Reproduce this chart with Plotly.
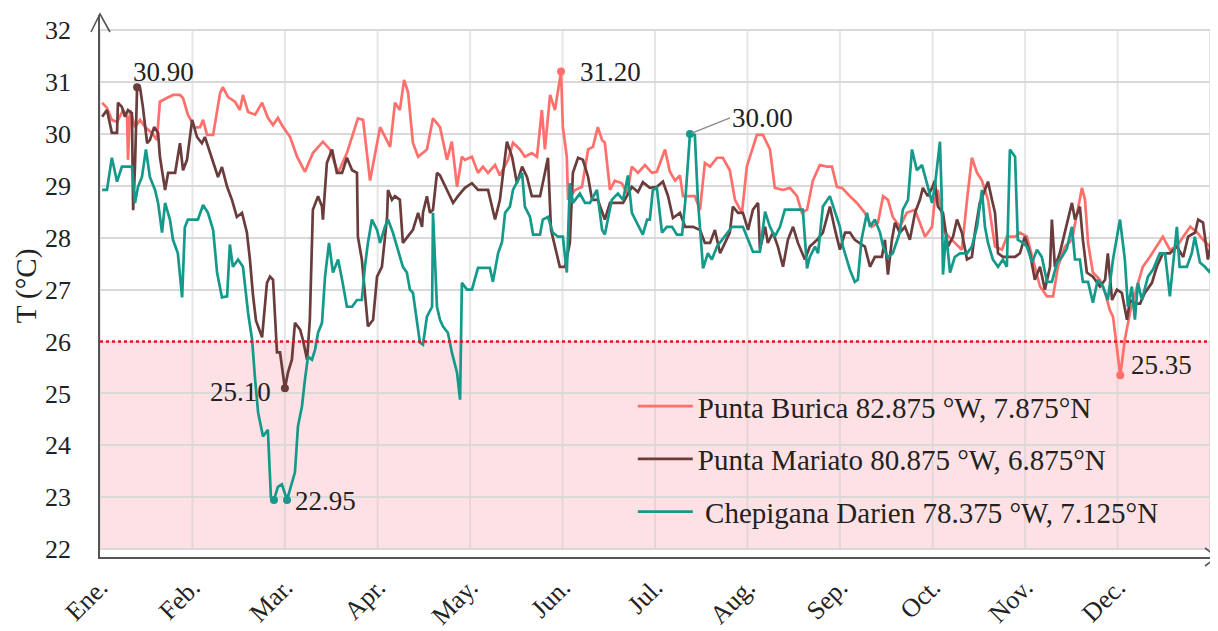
import plotly.graph_objects as go

# ---------------- data (day of year, °C) ----------------
burica_day = [0.7, 2.3, 3.9, 5.6, 7.6, 8.9, 9.2, 9.9, 11.5, 13.2, 14.8, 17.1, 18.7, 19.7, 22.0, 24.0, 26.3, 27.3, 28.9,
              31.2, 32.9, 33.9, 35.2, 37.2, 39.5, 40.4, 42.1, 44.4, 46.0, 47.0, 48.7, 51.0, 53.3, 55.2, 56.9, 58.5,
              60.2, 62.5, 64.8, 67.4, 70.0, 73.3, 75.6, 78.3, 81.2, 84.8, 86.5, 88.8, 92.1, 95.4, 97.0, 98.6, 100.0,
              101.3, 102.9, 104.6, 107.5, 109.5, 111.8, 114.1, 115.7, 117.4, 119.0, 120.0, 122.3, 124.3, 125.9,
              127.6, 129.9, 131.5, 134.2, 135.8, 138.1, 139.7, 142.0, 143.7, 145.3, 146.3, 148.0, 149.6, 151.6,
              152.2, 153.5, 153.9, 156.2, 158.5, 160.5, 162.1, 163.7, 165.1, 166.0, 167.7, 169.3, 171.6, 173.3,
              174.9, 176.9, 179.2, 181.5, 183.1, 185.8, 187.4, 189.1, 190.7, 191.7, 195.6, 197.3, 198.9, 200.6,
              202.9, 204.8, 207.1, 208.8, 211.1, 212.7, 214.4, 216.0, 218.0, 220.3, 221.9, 224.6, 226.9, 229.2,
              230.8, 232.5, 234.4, 236.7, 239.0, 240.7, 242.3, 244.0, 246.6, 248.9, 251.5, 253.8, 255.8, 257.5,
              259.1, 260.7, 263.0, 265.3, 268.0, 269.6, 271.3, 273.6, 274.5, 275.5, 277.8, 281.1, 283.4, 285.1,
              286.7, 288.4, 290.0, 292.0, 294.3, 296.6, 298.2, 300.9, 302.5, 304.8, 306.8, 309.1, 311.4, 313.4,
              315.0, 317.3, 319.6, 321.6, 322.9, 323.9, 324.9, 326.5, 328.8, 330.5, 332.1, 333.1, 334.1, 335.5,
              337.0, 338.7, 341.0, 342.9, 345.2, 347.5, 349.5, 351.8, 354.1, 356.2, 358.5, 360.8, 362.7, 365.0,
              366.0, 367.3]
burica_t = [30.6, 30.5, 30.27, 30.23, 30.46, 30.33, 29.5, 30.46, 30.13, 30.27, 30.13, 30.02, 29.88, 30.62, 30.69,
            30.75, 30.75, 30.69, 30.37, 30.12, 30.13, 30.27, 29.98, 29.98, 30.79, 30.9, 30.71, 30.62, 30.46, 30.75,
            30.42, 30.37, 30.6, 30.31, 30.17, 30.31, 30.13, 29.94, 29.56, 29.27, 29.63, 29.85, 29.7, 29.25, 29.63,
            30.3, 30.27, 29.1, 30.13, 29.75, 30.6, 30.46, 31.04, 30.8, 29.83, 29.56, 29.7, 30.3, 30.13, 29.5, 29.85,
            28.98, 29.56, 29.5, 29.56, 29.25, 29.37, 29.25, 29.4, 29.2, 29.5, 29.83, 29.7, 29.56, 29.63, 29.56,
            30.46, 29.7, 30.75, 30.46, 31.2, 30.13, 29.56, 28.73, 28.92, 28.98, 29.7, 29.75, 30.13, 29.88, 29.83,
            28.92, 29.1, 29.05, 28.85, 29.37, 29.25, 29.4, 29.25, 29.27, 29.7, 29.27, 29.1, 29.2, 28.8, 28.8, 28.54,
            29.44, 29.37, 29.54, 29.54, 29.3, 28.73, 28.48, 29.37, 29.7, 29.98, 29.98, 29.7, 28.96, 28.92, 28.96,
            28.8, 28.48, 28.54, 29.1, 29.4, 29.37, 29.37, 28.98, 28.96, 28.8, 28.67, 28.48, 28.21, 28.29, 28.8,
            28.73, 28.4, 28.21, 28.48, 28.54, 28.29, 28.02, 28.21, 28.73, 28.92, 28.1, 27.9, 27.77, 28.73, 29.54,
            29.25, 29.1, 28.73, 27.83, 27.77, 28.02, 28.02, 28.1, 28.02, 27.58, 27.06, 26.87, 26.87, 27.44, 27.83,
            27.96, 28.6, 28.96, 28.73, 27.9, 27.33, 27.19, 26.94, 26.6, 26.48, 26.04, 25.35, 26.04, 26.56, 27.06,
            27.44, 27.63, 27.83, 28.02, 27.77, 27.83, 28.02, 28.21, 28.1, 27.96, 27.83, 28.54, 28.96]

mariato_day = [0.7, 2.3, 3.9, 5.6, 5.9, 7.2, 8.2, 9.2, 10.5, 10.9, 11.5, 12.2, 13.2, 14.1, 15.5, 16.4, 17.8, 19.1,
               19.7, 21.4, 22.4, 24.7, 26.3, 27.3, 28.6, 30.3, 31.9, 33.5, 34.5, 36.2, 37.8, 38.8, 40.1, 41.8, 43.4,
               45.0, 46.7, 48.3, 49.3, 50.3, 51.3, 53.3, 54.9, 55.9, 56.9, 58.2, 59.2, 60.8, 61.8, 63.1, 64.1, 65.8,
               66.7, 68.1, 69.0, 70.0, 71.7, 73.0, 73.3, 74.6, 76.3, 77.9, 79.6, 81.2, 82.9, 84.5, 84.8, 86.1, 87.1,
               88.1, 89.8, 91.1, 92.7, 94.4, 94.7, 96.0, 97.0, 98.6, 99.6, 101.3, 102.9, 104.6, 105.9, 106.2, 107.5,
               108.5, 109.5, 110.8, 111.8, 114.1, 116.1, 117.7, 120.0, 122.3, 124.3, 127.6, 129.9, 131.5, 133.8,
               135.5, 137.1, 138.8, 140.4, 142.0, 144.7, 146.3, 147.3, 148.3, 149.6, 151.2, 152.9, 154.5, 155.5,
               157.2, 158.8, 160.5, 161.8, 163.7, 166.0, 167.7, 170.0, 172.0, 174.9, 176.9, 178.5, 180.8, 183.1,
               185.1, 186.8, 188.4, 190.7, 192.4, 195.0, 197.3, 198.9, 200.6, 202.2, 203.9, 205.5, 207.1, 208.1,
               209.8, 211.4, 213.1, 214.7, 216.4, 217.0, 218.7, 219.6, 221.3, 222.9, 224.6, 226.2, 227.9, 229.5,
               231.8, 233.4, 235.8, 237.7, 240.0, 241.7, 243.3, 245.0, 246.6, 248.2, 249.9, 251.5, 253.2, 254.8,
               257.1, 258.1, 259.1, 260.4, 261.4, 263.0, 264.7, 266.3, 268.0, 269.6, 270.6, 272.2, 273.6, 274.5,
               275.5, 277.2, 278.8, 280.5, 281.8, 283.4, 285.1, 286.7, 287.7, 289.3, 291.0, 292.0, 293.3, 294.3,
               295.3, 296.9, 300.9, 302.5, 304.1, 305.8, 307.4, 309.1, 310.7, 312.4, 313.0, 314.0, 315.6, 317.3,
               319.6, 320.6, 322.2, 323.2, 324.5, 326.5, 328.8, 330.5, 331.4, 332.8, 334.4, 336.0, 337.7, 338.7,
               340.3, 342.0, 343.6, 345.9, 347.5, 349.5, 351.8, 354.1, 356.2, 357.8, 360.1, 361.1, 362.7, 364.3,
               366.0, 367.3]
mariato_t = [30.33, 30.46, 30.02, 30.02, 30.6, 30.52, 30.33, 30.46, 30.4, 28.53, 29.36, 30.9, 30.88, 30.52, 29.82,
             29.88, 30.13, 30.02, 29.56, 28.92, 29.25, 29.25, 29.82, 29.3, 29.5, 30.27, 29.94, 29.82, 29.94, 29.63,
             29.36, 29.17, 29.36, 28.98, 28.73, 28.4, 28.48, 28.1, 27.58, 26.9, 26.4, 26.08, 27.13, 27.25, 27.19,
             25.79, 25.79, 25.1, 25.4, 25.65, 26.36, 26.23, 26.04, 25.65, 26.42, 28.54, 28.8, 28.6, 28.35, 29.44,
             29.7, 29.25, 29.25, 29.54, 29.3, 29.25, 28.02, 27.58, 26.94, 26.29, 26.42, 27.25, 27.44, 28.4, 28.92,
             28.73, 28.8, 28.73, 27.9, 28.02, 28.15, 28.48, 28.21, 28.48, 28.8, 28.48, 28.54, 29.25, 29.2, 28.92,
             28.67, 28.8, 28.96, 29.05, 28.92, 28.92, 28.35, 28.73, 29.85, 29.56, 29.05, 29.37, 29.17, 28.8, 28.8,
             29.25, 29.54, 28.15, 27.83, 27.44, 27.44, 27.9, 29.25, 29.54, 29.5, 29.17, 28.73, 28.73, 28.35, 28.67,
             28.67, 28.67, 28.98, 28.88, 29.07, 28.96, 28.98, 29.08, 28.8, 28.38, 28.48, 28.21, 28.21, 28.15, 27.9,
             27.9, 28.15, 27.7, 27.9, 28.1, 28.6, 28.48, 28.48, 28.15, 28.54, 28.67, 27.77, 28.21, 27.9, 28.1, 27.83,
             27.44, 27.96, 28.21, 27.9, 27.58, 27.83, 27.96, 28.1, 28.6, 28.15, 27.77, 28.1, 28.1, 27.96, 27.9,
             27.83, 27.44, 27.63, 27.63, 27.96, 27.29, 27.96, 28.29, 28.1, 28.21, 27.96, 28.48, 28.73, 28.96, 28.8,
             28.96, 29.1, 28.6, 28.48, 27.83, 28.02, 28.35, 28.1, 27.58, 27.63, 28.1, 28.67, 28.92, 29.08, 28.73,
             28.48, 27.7, 27.63, 27.63, 27.7, 28.02, 27.7, 27.19, 27.44, 27.0, 27.44, 28.35, 27.44, 27.7, 28.1,
             28.67, 28.35, 28.6, 27.96, 27.33, 27.25, 27.06, 27.19, 27.7, 26.8, 27.0, 26.94, 26.42, 26.8, 26.73,
             26.73, 26.94, 27.13, 27.44, 27.7, 27.7, 27.83, 27.63, 28.02, 28.1, 28.35, 28.29, 27.58, 28.1, 28.29]

chepigana_day = [0.7, 2.3, 3.9, 5.6, 7.2, 10.5, 11.5, 12.5, 13.8, 15.1, 16.4, 18.1, 19.1, 20.4, 21.4, 23.0, 24.0,
                 25.6, 27.0, 27.9, 28.9, 32.2, 33.9, 35.5, 37.2, 38.5, 40.1, 41.8, 42.7, 43.7, 45.4, 47.0, 48.7,
                 50.0, 51.0, 52.0, 53.6, 55.2, 56.2, 57.2, 58.5, 59.8, 61.5, 63.1, 64.1, 65.1, 66.4, 67.4, 68.4,
                 69.7, 70.7, 71.7, 73.0, 74.0, 75.3, 76.6, 78.3, 79.6, 81.2, 82.9, 84.5, 86.1, 87.1, 88.1, 89.4,
                 91.1, 92.1, 93.7, 94.7, 96.3, 98.0, 99.6, 100.9, 101.9, 102.9, 104.2, 105.2, 106.2, 107.5, 109.2,
                 109.5, 110.8, 111.8, 112.8, 114.4, 115.7, 117.4, 118.4, 119.0, 120.7, 122.3, 124.3, 128.2, 129.2,
                 130.9, 132.2, 133.2, 134.8, 135.8, 137.4, 138.8, 139.7, 141.4, 142.4, 144.7, 145.6, 147.3, 148.9,
                 150.6, 152.2, 153.5, 154.5, 155.5, 157.8, 159.5, 161.1, 163.4, 165.1, 166.0, 168.3, 170.3, 172.0,
                 173.6, 174.9, 176.6, 178.5, 179.9, 180.8, 181.8, 183.1, 184.8, 186.4, 188.1, 189.7, 191.4, 192.4,
                 194.0, 195.6, 196.6, 198.3, 199.9, 201.2, 202.9, 204.5, 206.2, 207.8, 211.4, 213.1, 214.7, 217.0,
                 218.7, 220.3, 221.9, 223.6, 225.2, 231.1, 232.5, 233.4, 235.1, 236.1, 237.7, 240.0, 242.3, 243.3,
                 244.3, 246.6, 248.2, 249.2, 250.4, 252.2, 253.2, 254.8, 256.5, 257.5, 259.1, 260.7, 263.0, 264.0,
                 265.7, 267.0, 268.6, 270.3, 271.9, 273.6, 274.5, 276.2, 276.8, 277.2, 278.2, 279.5, 281.1, 282.8,
                 285.1, 286.7, 288.4, 290.0, 291.0, 292.0, 293.6, 295.3, 296.9, 298.2, 299.2, 300.9, 301.8, 303.5,
                 304.8, 306.5, 308.1, 309.7, 311.4, 313.0, 314.7, 316.3, 317.9, 319.6, 320.6, 322.2, 323.2, 324.9,
                 326.5, 328.1, 329.8, 331.4, 333.1, 335.4, 337.0, 338.0, 339.3, 340.3, 341.3, 342.6, 344.6, 346.2,
                 348.5, 350.2, 351.8, 352.8, 354.1, 355.0, 357.4, 359.0, 360.0, 361.7, 363.3, 365.0, 366.0, 367.3]
chepigana_t = [28.92, 28.92, 29.54, 29.08, 29.37, 29.37, 28.67, 28.98, 29.17, 29.7, 29.17, 28.92, 28.67, 28.1,
               28.67, 28.35, 27.96, 27.7, 26.85, 28.2, 28.35, 28.35, 28.63, 28.48, 28.15, 27.33, 26.85, 26.87, 27.87,
               27.44, 27.58, 27.44, 26.55, 26.04, 25.27, 24.63, 24.17, 24.3, 23.0, 22.95, 23.2, 23.25, 22.95, 23.25,
               23.48, 24.37, 24.75, 25.27, 25.71, 25.65, 25.84, 26.17, 26.36, 27.25, 27.9, 27.33, 27.58, 27.19,
               26.67, 26.67, 26.8, 26.8, 27.44, 27.9, 28.35, 28.15, 27.9, 28.21, 28.35, 28.1, 27.77, 27.44, 27.33,
               27.0, 26.94, 26.42, 25.98, 25.94, 26.48, 26.67, 28.48, 26.67, 26.42, 26.29, 26.17, 25.79, 25.4, 24.88,
               27.13, 27.0, 27.0, 27.42, 27.42, 27.15, 27.7, 27.92, 28.48, 28.6, 28.92, 29.1, 29.25, 28.6, 28.4,
               28.06, 28.06, 28.35, 28.4, 28.1, 28.02, 28.02, 27.33, 29.05, 28.67, 28.85, 28.67, 28.67, 28.92, 28.15,
               28.06, 28.73, 28.85, 28.73, 29.2, 28.48, 28.29, 28.06, 28.35, 28.35, 28.92, 28.96, 28.1, 28.21, 28.21,
               28.06, 28.06, 28.67, 30.0, 29.98, 28.73, 27.41, 27.7, 27.58, 27.83, 27.96, 28.1, 28.21, 28.21, 27.98,
               27.73, 27.73, 28.5, 28.21, 28.02, 28.21, 28.54, 28.54, 27.41, 27.63, 27.83, 27.7, 28.6, 28.8, 28.4,
               28.21, 27.83, 27.38, 27.15, 27.19, 27.96, 28.48, 28.21, 28.35, 28.1, 27.83, 27.62, 27.7, 28.1, 28.54,
               28.73, 29.7, 29.3, 29.4, 29.05, 28.67, 28.98, 29.85, 28.73, 27.29, 28.1, 27.33, 27.63, 27.7, 27.7,
               27.83, 28.21, 28.92, 28.21, 27.9, 27.58, 27.44, 27.58, 27.44, 29.7, 29.56, 27.96, 27.9, 27.83, 27.52,
               27.77, 27.63, 27.15, 27.15, 27.52, 27.63, 27.79, 28.21, 27.58, 27.58, 27.15, 27.15, 26.75, 27.19,
               27.06, 26.8, 27.58, 28.35, 27.58, 26.67, 27.06, 26.42, 27.13, 26.8, 27.25, 27.38, 27.7, 27.7, 26.87,
               27.44, 28.21, 27.44, 27.44, 27.7, 28.02, 27.52, 27.44, 27.33, 27.58, 27.63]

month_labels = ["Ene.", "Feb.", "Mar.", "Apr.", "May.", "Jun.", "Jul.", "Aug.", "Sep.", "Oct.", "Nov.", "Dec."]
month_start = [0, 30.4, 60.8, 91.3, 121.7, 152.1, 182.5, 212.9, 243.3, 273.8, 304.2, 334.6, 365.0]
threshold = 26
y_ticks = [22, 23, 24, 25, 26, 27, 28, 29, 30, 31, 32]

names = ["Punta Burica 82.875 °W, 7.875°N",
         "Punta Mariato 80.875 °W, 6.875°N",
         " Chepigana Darien 78.375 °W, 7.125°N"]
colors = ["#FF6F6B", "#6B3C3C", "#14998A"]

FONT = "Liberation Serif"
TXT = "#222222"

fig = go.Figure()
series = [(burica_day, burica_t), (mariato_day, mariato_t), (chepigana_day, chepigana_t)]
for i, (d, t) in enumerate(series):
    fig.add_trace(go.Scatter(x=d, y=t, mode="lines", name=names[i], legendgroup=str(i),
                             line=dict(color=colors[i], width=2.7), hoverinfo="skip"))


def pts(days, temps, value):
    return [d for d, t in zip(days, temps) if t == value], [t for t in temps if t == value]


marks = [
    (burica_day, burica_t, max(burica_t), 0, "31.20", "left", 17, 0),
    (burica_day, burica_t, min(burica_t), 0, "25.35", "left", 9, 10),
    (mariato_day, mariato_t, max(mariato_t), 1, "30.90", "left", -6, 15),
    (mariato_day, mariato_t, min(mariato_t), 1, "25.10", "right", -12, -4),
    (chepigana_day, chepigana_t, min(chepigana_t), 2, "22.95", "left", 6, -1),
]
for d, t, v, ci, label, anc, xs, ys in marks:
    px, py = pts(d, t, v)
    fig.add_trace(go.Scatter(x=px, y=py, mode="markers", showlegend=False, hoverinfo="skip",
                             marker=dict(color=colors[ci], size=8)))
    fig.add_annotation(x=px[-1], y=py[-1], text=label, showarrow=False, xanchor=anc, yanchor="middle",
                       xshift=xs, yshift=ys, font=dict(family=FONT, size=27, color=TXT))

# Chepigana maximum with leader line
cx, cy = pts(chepigana_day, chepigana_t, max(chepigana_t))
fig.add_trace(go.Scatter(x=cx, y=cy, mode="markers", showlegend=False, hoverinfo="skip",
                         marker=dict(color=colors[2], size=8)))
fig.add_annotation(x=cx[0], y=cy[0], text="30.00", showarrow=True, arrowhead=0, arrowwidth=1.5,
                   arrowcolor="#8C8C8C", ax=40, ay=-16, xanchor="left", yanchor="middle",
                   standoff=2, font=dict(family=FONT, size=27, color=TXT))

# shaded area below threshold and dotted threshold line
fig.add_shape(type="rect", xref="x", yref="y", x0=0, x1=month_start[-1], y0=y_ticks[0], y1=threshold,
              fillcolor="#FDE1E4", line=dict(width=0), layer="below")
for m in month_start:
    fig.add_shape(type="line", xref="x", yref="y", x0=m, x1=m, y0=y_ticks[0], y1=y_ticks[-1],
                  line=dict(color="rgba(200,200,200,0.45)", width=2), layer="below")
fig.add_shape(type="line", xref="x", yref="y", x0=0, x1=month_start[-1], y0=threshold, y1=threshold,
              line=dict(color="#E8141B", width=2.6, dash="dot"), layer="above")

# axis arrow heads (paper-anchored so they are not clipped)
fig.add_shape(type="path", xref="paper", yref="paper", xsizemode="pixel", ysizemode="pixel",
              xanchor=0, yanchor=1, path="M-9,-17 L0,1 L10,-17",
              line=dict(color="#555555", width=1.6), layer="above")
fig.add_shape(type="path", xref="paper", yref="paper", xsizemode="pixel", ysizemode="pixel",
              xanchor=1, yanchor=0, path="M-12,9 L0,0 L-12,-9",
              line=dict(color="#555555", width=1.6), layer="above")

# page body has an 8px margin: size the figure so the plot lands where the reference has it
fig.update_layout(
    width=1210, height=623,
    margin=dict(l=92, r=1, t=7, b=74),
    paper_bgcolor="white", plot_bgcolor="white",
    font=dict(family=FONT, size=26, color=TXT),
    showlegend=True,
    legend=dict(x=0.477, y=0.325, xanchor="left", yanchor="top", bgcolor="rgba(0,0,0,0)",
                font=dict(family=FONT, size=29, color=TXT), tracegroupgap=12, itemwidth=55),
    xaxis=dict(range=[0, 367.3], tickvals=month_start[:-1], ticktext=month_labels, tickangle=-45,
               showgrid=False, zeroline=False, showline=True, linecolor="#555555", linewidth=1.6,
               ticks="", ticklabelstandoff=3, automargin=False,
               tickfont=dict(family=FONT, size=26, color=TXT)),
    yaxis=dict(range=[21.85, 32.29], tickvals=y_ticks, showgrid=True, gridcolor="#D9D9D9", gridwidth=2,
               zeroline=False, showline=True, linecolor="#555555", linewidth=1.6, ticks="",
               ticklabelstandoff=22, automargin=False, tickfont=dict(family=FONT, size=26, color=TXT),
               title=dict(text="T (°C)", font=dict(family=FONT, size=29, color=TXT), standoff=0)),
)

fig.write_html("out.html")
